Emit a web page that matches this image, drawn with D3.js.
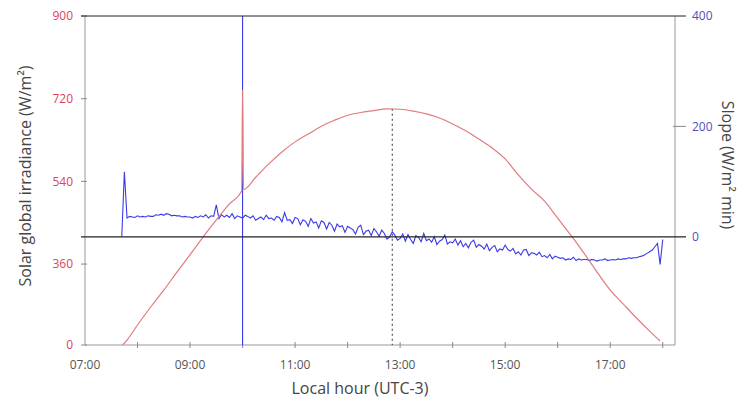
<!DOCTYPE html>
<html>
<head>
<meta charset="utf-8">
<script src="https://cdn.jsdelivr.net/npm/d3@7"></script>
<style>
  body { margin: 0; background: #fff; }
  svg { font-family: "Open Sans", sans-serif; }
  .tick-left { fill: #e0405a; font-size: 12px; }
  .tick-right { fill: #5050b8; font-size: 12px; }
  .tick-bottom { fill: #555; font-size: 12px; }
  .axis-title { fill: #444; font-size: 16px; }
</style>
</head>
<body>
<div id="wrapper"></div>
<script>
// irradiance (W/m2)
const irrTimes = ["07:43","07:48","08:00","08:15","08:30","08:45","09:00","09:15","09:30","09:45","09:59","10:00","10:01",
  "10:15","10:30","10:45","11:00","11:15","11:30","11:45","12:00","12:15","12:30","12:45","13:00","13:15","13:30","13:45",
  "14:00","14:15","14:30","14:45","15:00","15:15","15:30","15:45","16:00","16:15","16:30","16:45","17:00","17:15","17:30",
  "17:45","17:57"]
const irrValues = [0,22,89,169,244,324,380,419,456,491,519,740,522,
  549,578,604,626,643,660,673,684,690,694,698,697,693,687,678,
  665,650,632,613,589,554,523,497,460,423,384,324,244,182,120,
  62,18]

// slope (W/m2 min), one reading every 3 minutes from 07:42
const slopeStart = "07:42"
const slopeStepMin = 3
const slopeValues = [
  0, 118, 34, 37, 36, 35, 38, 36, 37, 36,
  38, 37, 37, 40, 39, 41, 39, 42, 41, 38,
  39, 38, 38, 36, 37, 36, 36, 34, 37, 35,
  38, 36, 40, 34, 38, 37, 58, 33, 40, 36,
  39, 35, 42, 33, 38, 36, 34, 39,
  37, 34, 38, 30, 33, 36, 31, 39, 33, 34,
  30, 37, 35, 27, 44, 30, 31, 24, 35, 33,
  22, 31, 28, 19, 33, 25, 27, 16, 29, 26,
  14, 26, 21, 10, 23, 18, 20, 8, 19, 16,
  13, 5, 17, 21, 4, 10, 12, 2, 15, 9,
  1, 12, 6, -4, 0, 9, 3, -6, -3, 5,
  -8, 4, -5, -12, 2, -1, -9, 6, -7, -4,
  -10, 0, -14, -8, -5, 3, -13, -9, -11, -4,
  -15, -7, -18, -12, -20, -10, -6, -19, -14, -17,
  -22, -13, -25, -19, -16, -27, -22, -24, -15, -23,
  -26, -21, -31, -27, -33, -24, -23, -34, -29, -30,
  -33, -28, -36, -34, -38, -32, -40, -35, -37, -39,
  -38, -42, -40, -41, -37, -43, -40, -42, -41, -41,
  -43, -41, -42, -44, -42, -42, -40, -43, -42, -41,
  -42, -40, -41, -40, -40, -38, -39, -38, -38, -36,
  -35, -33, -30, -27, -24, -18, -12, -50, -5
]
// the jump at 10:00 goes off the chart both ways
const slopeSpikeTime = "10:00"
const slopeSpikeRange = [-600, 900]

const leftTicks = [0, 360, 540, 720, 900]
const rightTicks = [0, 200, 400]
const xTickLabels = ["07:00","09:00","11:00","13:00","15:00","17:00"]
const peakTime = "12:51"

const parseTime = d3.timeParse("%H:%M")

const dimensions = {
  width: 742,
  height: 405,
  margin: { top: 16, right: 67, bottom: 60, left: 85 },
}
dimensions.boundedWidth = dimensions.width - dimensions.margin.left - dimensions.margin.right
dimensions.boundedHeight = dimensions.height - dimensions.margin.top - dimensions.margin.bottom

const svg = d3.select("#wrapper").append("svg")
  .attr("width", dimensions.width)
  .attr("height", dimensions.height)

const bounds = svg.append("g")
  .attr("transform", `translate(${dimensions.margin.left},${dimensions.margin.top})`)

const xScale = d3.scaleTime()
  .domain([parseTime("07:00"), parseTime("18:14")])
  .range([0, dimensions.boundedWidth])

// the left axis of the original is not even: 0..360 squeezed into one step
const yLeft = d3.scaleLinear()
  .domain([0, 360, 900])
  .range([dimensions.boundedHeight, dimensions.boundedHeight * 0.754, 0])

const yRight = d3.scaleLinear()
  .domain([-196, 400])
  .range([dimensions.boundedHeight, 0])

bounds.append("clipPath").attr("id", "plot-clip")
  .append("rect")
  .attr("width", dimensions.boundedWidth)
  .attr("height", dimensions.boundedHeight)

// frame: left/right/bottom in grey
bounds.append("line")
  .attr("x1", 0).attr("x2", 0).attr("y1", 0).attr("y2", dimensions.boundedHeight)
  .attr("stroke", "#999")
bounds.append("line")
  .attr("x1", dimensions.boundedWidth).attr("x2", dimensions.boundedWidth)
  .attr("y1", 0).attr("y2", dimensions.boundedHeight)
  .attr("stroke", "#999")
bounds.append("line")
  .attr("x1", 0).attr("x2", dimensions.boundedWidth)
  .attr("y1", dimensions.boundedHeight).attr("y2", dimensions.boundedHeight)
  .attr("stroke", "#999")

// bottom ticks every hour
const hourTicks = d3.timeHour.range(parseTime("08:00"), parseTime("18:05"))
bounds.selectAll(".x-tick")
  .data(hourTicks)
  .enter().append("line")
  .attr("x1", d => xScale(d)).attr("x2", d => xScale(d))
  .attr("y1", dimensions.boundedHeight - 3).attr("y2", dimensions.boundedHeight + 3)
  .attr("stroke", "#888")

bounds.selectAll(".tick-bottom")
  .data(xTickLabels)
  .enter().append("text")
  .attr("class", "tick-bottom")
  .attr("x", d => xScale(parseTime(d)))
  .attr("y", dimensions.boundedHeight + 24)
  .attr("text-anchor", "middle")
  .text(d => d)

// left ticks and labels
bounds.selectAll(".y-tick-left")
  .data(leftTicks)
  .enter().append("line")
  .attr("x1", -4).attr("x2", 2)
  .attr("y1", d => yLeft(d)).attr("y2", d => yLeft(d))
  .attr("stroke", "#888")
bounds.selectAll(".tick-left")
  .data(leftTicks)
  .enter().append("text")
  .attr("class", "tick-left")
  .attr("x", -12)
  .attr("y", d => yLeft(d))
  .attr("dy", "0.35em")
  .attr("text-anchor", "end")
  .text(d => d)

// right ticks and labels
bounds.selectAll(".y-tick-right")
  .data([200])
  .enter().append("line")
  .attr("x1", dimensions.boundedWidth - 2).attr("x2", dimensions.boundedWidth + 11)
  .attr("y1", d => yRight(d)).attr("y2", d => yRight(d))
  .attr("stroke", "#888")
bounds.selectAll(".tick-right")
  .data(rightTicks)
  .enter().append("text")
  .attr("class", "tick-right")
  .attr("x", dimensions.boundedWidth + 17)
  .attr("y", d => yRight(d))
  .attr("dy", "0.35em")
  .text(d => d)

// dotted line at solar noon
const irrData = irrTimes.map((t, i) => ({ time: parseTime(t), value: irrValues[i] }))
const peak = d3.max(irrValues.filter((v, i) => irrTimes[i] != "10:00"))
bounds.append("line")
  .attr("x1", xScale(parseTime(peakTime))).attr("x2", xScale(parseTime(peakTime)))
  .attr("y1", yLeft(peak)).attr("y2", dimensions.boundedHeight)
  .attr("stroke", "#333")
  .attr("stroke-dasharray", "2,3")

// slope series
const t0 = parseTime(slopeStart)
const slopeData = slopeValues.map((v, i) => ({ time: d3.timeMinute.offset(t0, i * slopeStepMin), value: v }))

const slopeLine = d3.line()
  .x(d => xScale(d.time))
  .y(d => yRight(d.value))

bounds.append("path")
  .datum(slopeData)
  .attr("clip-path", "url(#plot-clip)")
  .attr("d", slopeLine)
  .attr("fill", "none")
  .attr("stroke", "#3a3ae6")
  .attr("stroke-width", 1.1)

bounds.append("line")
  .attr("clip-path", "url(#plot-clip)")
  .attr("x1", xScale(parseTime(slopeSpikeTime))).attr("x2", xScale(parseTime(slopeSpikeTime)))
  .attr("y1", yRight(slopeSpikeRange[0])).attr("y2", yRight(slopeSpikeRange[1]))
  .attr("stroke", "#3a3ae6")
  .attr("stroke-width", 1.1)

// irradiance series
const irrLine = d3.line()
  .x(d => xScale(d.time))
  .y(d => yLeft(d.value))
  .curve(d3.curveMonotoneX)

bounds.append("path")
  .datum(irrData)
  .attr("clip-path", "url(#plot-clip)")
  .attr("d", irrLine)
  .attr("fill", "none")
  .attr("stroke", "#e07b80")
  .attr("stroke-width", 1.2)

// black lines at top and at slope zero
bounds.append("line")
  .attr("x1", -4).attr("x2", dimensions.boundedWidth + 11)
  .attr("y1", 0).attr("y2", 0)
  .attr("stroke", "#222")
bounds.append("line")
  .attr("x1", -4).attr("x2", dimensions.boundedWidth + 11)
  .attr("y1", yRight(0)).attr("y2", yRight(0))
  .attr("stroke", "#222")
  .attr("stroke-width", 1.3)

// titles
svg.append("text")
  .attr("class", "axis-title")
  .attr("transform", `translate(31, 176) rotate(-90)`)
  .attr("text-anchor", "middle")
  .text("Solar global irradiance (W/m²)")

svg.append("text")
  .attr("class", "axis-title")
  .attr("transform", `translate(722, 165) rotate(90)`)
  .attr("text-anchor", "middle")
  .text("Slope (W/m² min)")

svg.append("text")
  .attr("class", "axis-title")
  .attr("x", 360)
  .attr("y", 394)
  .attr("text-anchor", "middle")
  .text("Local hour (UTC-3)")
</script>
</body>
</html>
